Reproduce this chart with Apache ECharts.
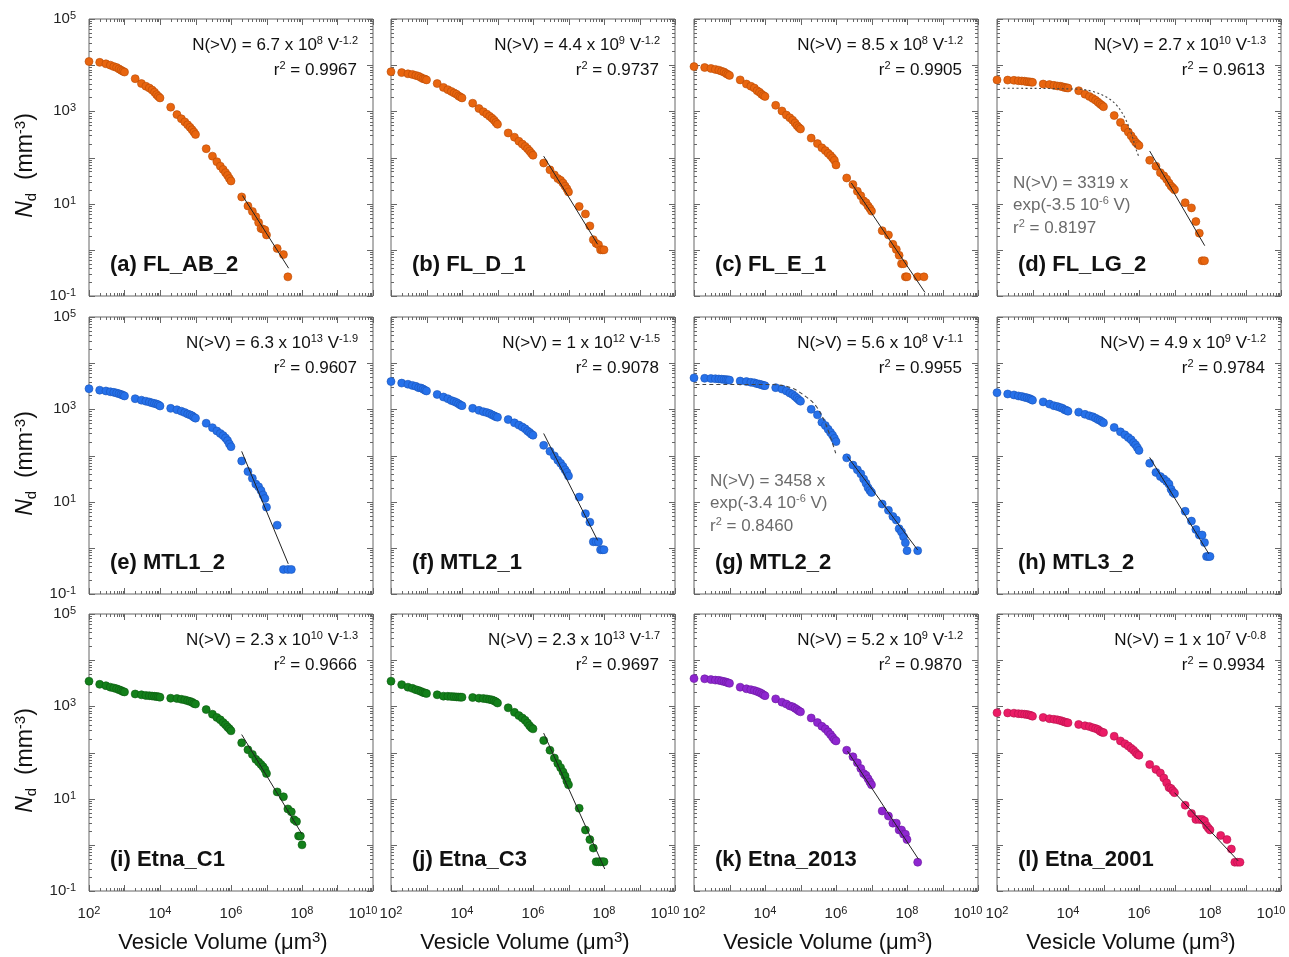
<!DOCTYPE html>
<html>
<head>
<meta charset="utf-8">
<title>Cumulative vesicle number density</title>
<script src="https://cdn.jsdelivr.net/npm/echarts@6/dist/echarts.min.js"></script>
<style>
  html, body { margin: 0; padding: 0; background: #fff; }
  #chart { width: 1289px; height: 957px; }
</style>
</head>
<body>
<div id="chart"></div>
<script>
// vesicle volume classes (µm³), one row per decade
const volumes = [
  1e2, 2e2, 3e2, 4e2, 5e2, 6e2, 7e2, 8e2, 9e2,
  1e3, 2e3, 3e3, 4e3, 5e3, 6e3, 7e3, 8e3, 9e3,
  1e4, 2e4, 3e4, 4e4, 5e4, 6e4, 7e4, 8e4, 9e4,
  1e5, 2e5, 3e5, 4e5, 5e5, 6e5, 7e5, 8e5, 9e5,
  1e6, 2e6, 3e6, 4e6, 5e6, 6e6, 7e6, 8e6, 9e6,
  1e7, 2e7, 3e7, 4e7, 5e7, 6e7, 7e7, 8e7, 9e7,
  1e8, 2e8, 3e8, 4e8, 5e8, 6e8, 7e8, 8e8, 9e8
]

// cumulative number density N(>V) in mm^-3, same order as volumes
const ndFL_AB_2 = [
  1.2e4, 1.15e4, 1.07e4, 1.0e4, 9.3e3, 8.9e3, 8.3e3, 7.8e3, 7.4e3,
  7.1e3, 5.1e3, 4.0e3, 3.5e3, 3.2e3, 2.9e3, 2.6e3, 2.3e3, 2.1e3,
  1950, 1230, 850, 690, 590, 510, 450, 400, 355,
  316, 155, 107, 81, 65, 55, 47, 41, 35,
  31, 14, 8.9, 6.8, 5.2, 3.9, 2.9, 2.8, 2.7,
  2.1, 1.07, 0.79, 0.26
]
const ndFL_D_1 = [
  7.2e3, 6.9e3, 6.5e3, 6.3e3, 6.0e3, 5.75e3, 5.4e3, 5.1e3, 5.0e3,
  4.8e3, 4.0e3, 3.3e3, 2.95e3, 2.7e3, 2.5e3, 2.35e3, 2.15e3, 2.05e3,
  1950, 1500, 1150, 980, 870, 780, 710, 645, 575,
  525, 340, 275, 225, 195, 174, 155, 138, 123,
  112, 76, 54, 42, 35, 32, 28, 24, 21,
  18, 8.7, 6.0, 3.3, 1.66, 1.38, 1.29, 1.0, 1.0,
  1.0
]
const ndFL_E_1 = [
  9.3e3, 8.9e3, 8.5e3, 8.1e3, 7.8e3, 7.4e3, 7.1e3, 6.6e3, 6.3e3,
  6.0e3, 4.8e3, 3.9e3, 3.5e3, 3.2e3, 2.8e3, 2.6e3, 2.35e3, 2.2e3,
  2100, 1350, 1020, 830, 725, 645, 560, 490, 445,
  415, 263, 200, 162, 141, 123, 110, 98, 87,
  69, 36, 26, 18.6, 14.8, 11.5, 10.5, 8.9, 7.9,
  6.9, 2.6, 2.1, 1.32, 1.02, 0.76, 0.5, 0.5, 0.26,
  0.26, 0.26, 0.26
]
const ndFL_LG_2 = [
  4.8e3, 4.75e3, 4.7e3, 4.6e3, 4.55e3, 4.5e3, 4.4e3, 4.35e3, 4.3e3,
  4.25e3, 3.9e3, 3.8e3, 3.65e3, 3.55e3, 3.5e3, 3.4e3, 3.3e3, 3.25e3,
  3200, 2800, 2350, 2100, 1900, 1740, 1580, 1450, 1350,
  1260, 810, 575, 435, 355, 295, 250, 215, 195,
  182, 87, 65, 47, 40, 34, 28, 24, 22,
  20, 10.5, 8.1, 4.1, 2.3, 0.58, 0.58
]
const ndMTL1_2 = [
  2.8e3, 2.6e3, 2.5e3, 2.4e3, 2.33e3, 2.25e3, 2.18e3, 2.1e3, 2.03e3,
  1950, 1700, 1580, 1500, 1440, 1380, 1340, 1300, 1250,
  1180, 1050, 980, 910, 850, 795, 760, 725, 675,
  645, 500, 400, 340, 300, 270, 240, 210, 178,
  155, 76, 45, 32, 24, 21, 17.4, 14, 11.7,
  7.6, 3.1, 0.34, 0.34, 0.34
]
const ndMTL2_1 = [
  4.0e3, 3.7e3, 3.5e3, 3.3e3, 3.15e3, 2.95e3, 2.9e3, 2.75e3, 2.6e3,
  2.5e3, 2.1e3, 1.85e3, 1.7e3, 1.55e3, 1.48e3, 1.4e3, 1.32e3, 1.24e3,
  1200, 1050, 950, 890, 850, 810, 760, 725, 690,
  675, 600, 510, 455, 415, 380, 340, 316, 290,
  275, 166, 123, 98, 79, 68, 58, 49, 43,
  36, 12.6, 5.5, 3.6, 1.35, 1.35, 1.35, 0.91, 0.91,
  0.91
]
const ndMTL2_2 = [
  4.8e3, 4.7e3, 4.65e3, 4.6e3, 4.55e3, 4.5e3, 4.45e3, 4.4e3, 4.35e3,
  4.3e3, 4.1e3, 4.0e3, 3.85e3, 3.75e3, 3.6e3, 3.5e3, 3.4e3, 3.3e3,
  3250, 2950, 2750, 2500, 2250, 2100, 1900, 1740, 1600,
  1500, 1000, 760, 525, 445, 370, 316, 275, 235,
  200, 89, 62, 49, 40, 31, 25, 20, 17.4,
  15.8, 8.9, 6.5, 4.8, 4.0, 2.6, 2.2, 1.74, 1.29,
  0.87, 0.87
]
const ndMTL3_2 = [
  2.3e3, 2.15e3, 2.05e3, 1.95e3, 1.9e3, 1.82e3, 1.78e3, 1.72e3, 1.66e3,
  1.58e3, 1.45e3, 1.3e3, 1.2e3, 1.15e3, 1.1e3, 1.05e3, 980, 950,
  910, 870, 780, 725, 690, 645, 600, 575, 540,
  510, 405, 325, 280, 245, 220, 190, 170, 148,
  129, 68, 43, 35, 31, 27.5, 24, 18.6, 15.8,
  14.8, 6.2, 3.8, 2.5, 1.9, 1.9, 1.3, 0.65, 0.65,
  0.65
]
const ndEtna_C1 = [
  3.5e3, 3.0e3, 2.8e3, 2.6e3, 2.5e3, 2.4e3, 2.3e3, 2.2e3, 2.1e3,
  2.05e3, 1.85e3, 1.78e3, 1.72e3, 1.7e3, 1.67e3, 1.65e3, 1.63e3, 1.61e3,
  1580, 1500, 1480, 1420, 1380, 1320, 1280, 1230, 1150,
  1120, 850, 675, 575, 510, 445, 400, 355, 325,
  295, 162, 115, 91, 71, 62, 55, 49, 43,
  35, 14, 11, 6.0, 5.2, 3.5, 3.2, 1.55, 1.55,
  1.0
]
const ndEtna_C3 = [
  3.5e3, 2.95e3, 2.6e3, 2.45e3, 2.3e3, 2.2e3, 2.1e3, 2.0e3, 1.95e3,
  1.9e3, 1.78e3, 1.66e3, 1.65e3, 1.63e3, 1.62e3, 1.6e3, 1.59e3, 1.58e3,
  1580, 1550, 1500, 1480, 1450, 1410, 1380, 1320, 1260,
  1180, 930, 740, 630, 560, 500, 435, 380, 345,
  325, 182, 112, 76, 58, 47, 38, 31, 24,
  20, 6.2, 2.1, 1.3, 0.85, 0.43, 0.43, 0.43, 0.43,
  0.43
]
const ndEtna_2013 = [
  4.0e3, 3.95e3, 3.8e3, 3.7e3, 3.65e3, 3.55e3, 3.45e3, 3.35e3, 3.25e3,
  3.15e3, 2.6e3, 2.4e3, 2.3e3, 2.2e3, 2.1e3, 2.0e3, 1.9e3, 1.78e3,
  1700, 1450, 1230, 1120, 1020, 980, 910, 850, 795,
  760, 560, 445, 370, 325, 280, 245, 215, 190,
  178, 112, 81, 60, 45, 35, 32, 27, 23,
  20, 5.4, 4.2, 2.95, 2.95, 2.1, 2.1, 1.7, 1.7,
  1.3, 0.42
]
const ndEtna_2001 = [
  725, 720, 710, 695, 685, 675, 665, 650, 635,
  610, 575, 540, 525, 510, 495, 475, 460, 445,
  440, 405, 380, 365, 345, 330, 315, 290, 275,
  270, 225, 178, 155, 138, 123, 112, 100, 91,
  87, 55, 43, 36, 28, 22, 17.4, 16.6, 14.8,
  13.5, 7.2, 4.8, 3.55, 3.55, 3.55, 3.3, 2.6, 2.3,
  2.1, 1.6, 1.3, 0.81, 0.42, 0.42, 0.42
]

// power-law fit segments [V, N] as drawn
const fitFL_AB_2 = [[2.1e6, 15], [4.2e7, 0.4]]
const fitFL_D_1 = [[2.0e6, 107], [6.6e7, 1.32]]
const fitFL_E_1 = [[2.7e6, 28], [3.2e8, 0.12]]
const fitFL_LG_2 = [[2.0e6, 138], [7.1e7, 1.23]]
const fitMTL1_2 = [[2.0e6, 123], [4.1e7, 0.45]]
const fitMTL2_1 = [[2.0e6, 300], [6.6e7, 1.45]]
const fitMTL2_2 = [[2.1e6, 95], [2.0e8, 0.9]]
const fitMTL3_2 = [[2.0e6, 91], [9.3e7, 0.74]]
const fitEtna_C1 = [[2.0e6, 245], [1.0e8, 1.7]]
const fitEtna_C3 = [[2.0e6, 263], [1.05e8, 0.3]]
const fitEtna_2013 = [[2.1e6, 107], [2.1e8, 0.49]]
const fitEtna_2001 = [[1.0e7, 13.5], [6.2e8, 0.45]]

// exponential fits (dashed curves)
const expFL_LG_2 = [[150, 3160], [2.1e4, 3020], [5.0e4, 2690], [1.2e5, 2040], [2.3e5, 1380],
  [4.0e5, 725], [6.0e5, 340], [8.3e5, 148], [1.0e6, 102]]
const expMTL2_2 = [[110, 3460], [1e4, 3460], [4.9e4, 3020], [1.45e5, 1860], [2.8e5, 1150],
  [4.8e5, 540], [7.4e5, 220], [9.8e5, 112]]

const sampleLabels = ['(a) FL_AB_2', '(b) FL_D_1', '(c) FL_E_1', '(d) FL_LG_2',
  '(e) MTL1_2', '(f) MTL2_1', '(g) MTL2_2', '(h) MTL3_2',
  '(i) Etna_C1', '(j) Etna_C3', '(k) Etna_2013', '(l) Etna_2001']
const fitCoef = ['6.7', '4.4', '8.5', '2.7', '6.3', '1', '5.6', '4.9', '2.3', '2.3', '5.2', '1']
const fitCoefExp = ['8', '9', '8', '10', '13', '12', '8', '9', '10', '13', '9', '7']
const fitSlope = ['-1.2', '-1.2', '-1.2', '-1.3', '-1.9', '-1.5', '-1.1', '-1.2', '-1.3', '-1.7', '-1.2', '-0.8']
const fitR2 = ['0.9967', '0.9737', '0.9905', '0.9613', '0.9607', '0.9078',
  '0.9955', '0.9784', '0.9666', '0.9697', '0.9870', '0.9934']
const expPanels = [3, 6]
const expCoef = ['3319', '3458']
const expRate = ['-3.5', '-3.4']
const expR2 = ['0.8197', '0.8460']

const xTickExps = [2, 4, 6, 8, 10]
const yTickExps = [-1, 1, 3, 5]

const samples = [ndFL_AB_2, ndFL_D_1, ndFL_E_1, ndFL_LG_2, ndMTL1_2, ndMTL2_1,
  ndMTL2_2, ndMTL3_2, ndEtna_C1, ndEtna_C3, ndEtna_2013, ndEtna_2001]
const fits = [fitFL_AB_2, fitFL_D_1, fitFL_E_1, fitFL_LG_2, fitMTL1_2, fitMTL2_1,
  fitMTL2_2, fitMTL3_2, fitEtna_C1, fitEtna_C3, fitEtna_2013, fitEtna_2001]
const expCurves = [expFL_LG_2, expMTL2_2]

const colors = ['#E8650F', '#E8650F', '#E8650F', '#E8650F',
  '#2671EA', '#2671EA', '#2671EA', '#2671EA',
  '#13801A', '#13801A', '#8E26CF', '#EB1C66']
const borders = ['#B84A05', '#B84A05', '#B84A05', '#B84A05',
  '#1A54B8', '#1A54B8', '#1A54B8', '#1A54B8',
  '#0C5A10', '#0C5A10', '#6A1A9E', '#B5124B']

const FONT = '"Liberation Sans", Arial, sans-serif'
const gridLefts = [89, 391, 694, 997]
const gridTops = [19, 317, 614]
const gridW = 284
const gridH = 277
const xMin = 1e2, xMax = 1e10, yMin = 0.1, yMax = 1e5
const frameColor = '#666'

// log-axis tick positions (majors at decades, minors 2..9)
function logTicks(lo, hi) {
  const out = []
  for (let e = lo; e <= hi; e++) {
    out.push([Math.pow(10, e), 6])
    if (e < hi) {
      for (let m = 2; m <= 9; m++) out.push([m * Math.pow(10, e), 3])
    }
  }
  return out
}
const xTicks = logTicks(2, 10)
const yTicks = logTicks(-1, 5)

function expOf(v) { return Math.round(Math.log10(v)) }

const chart = echarts.init(document.getElementById('chart'), null, { renderer: 'canvas' })

const grids = [], xAxes = [], yAxes = [], series = [], graphics = []

const textRich = (size, color) => ({
  n: { fontSize: size, lineHeight: size + 3, fontFamily: FONT, fill: color, color: color },
  s: { fontSize: Math.round(size * 0.65), lineHeight: 9, verticalAlign: 'top', fontFamily: FONT, fill: color, color: color }
})

const tickRich = {
  b: { fontSize: 15, lineHeight: 17, fontFamily: FONT, color: '#222' },
  s: { fontSize: 11, lineHeight: 6, verticalAlign: 'top', fontFamily: FONT, color: '#222' },
  // last x label sits left of its tick, as in the original
  e: { fontSize: 11, lineHeight: 6, verticalAlign: 'top', fontFamily: FONT, color: '#222', padding: [0, 20, 0, 0] }
}

for (let i = 0; i < 12; i++) {
  const row = Math.floor(i / 4), col = i % 4
  const left = gridLefts[col], top = gridTops[row]
  grids.push({
    left: left, top: top, width: gridW, height: gridH,
    show: true, borderColor: frameColor, borderWidth: 1,
    outerBoundsMode: 'none', containLabel: false
  })
  xAxes.push({
    type: 'log', logBase: 10, gridIndex: i, min: xMin, max: xMax,
    splitNumber: 10,
    axisLine: { show: false }, axisTick: { show: false }, splitLine: { show: false },
    axisLabel: {
      show: row === 2, margin: 14, hideOverlap: false,
      showMinLabel: true, showMaxLabel: true,
      formatter: v => {
        const e = expOf(v)
        if (!xTickExps.includes(e)) return ''
        return '{b|10}{' + (v >= xMax ? 'e' : 's') + '|' + e + '}'
      },
      rich: tickRich
    }
  })
  yAxes.push({
    type: 'log', logBase: 10, gridIndex: i, min: yMin, max: yMax,
    splitNumber: 10,
    axisLine: { show: false }, axisTick: { show: false }, splitLine: { show: false },
    axisLabel: {
      show: col === 0, margin: 13, hideOverlap: false,
      showMinLabel: true, showMaxLabel: true,
      formatter: v => yTickExps.includes(expOf(v)) ? '{b|10}{s|' + expOf(v) + '}' : '',
      rich: tickRich
    }
  })

  // ticks on all four sides of the frame
  const tickData = []
  xTicks.forEach(t => tickData.push([t[0], 1, 0, t[1]]))
  yTicks.forEach(t => tickData.push([xMin, t[0], 1, t[1]]))
  series.push({
    type: 'custom', xAxisIndex: i, yAxisIndex: i, silent: true, clip: false, z: 1,
    data: tickData,
    renderItem: (params, api) => {
      const kind = api.value(2), len = api.value(3)
      const style = { stroke: frameColor, lineWidth: 1 }
      if (kind === 0) {
        const b = api.coord([api.value(0), yMin]), t = api.coord([api.value(0), yMax])
        const x = Math.round(b[0]) + 0.5
        return { type: 'group', children: [
          { type: 'line', shape: { x1: x, y1: b[1], x2: x, y2: b[1] - len }, style: style },
          { type: 'line', shape: { x1: x, y1: t[1], x2: x, y2: t[1] + len }, style: style }
        ] }
      }
      const l = api.coord([xMin, api.value(1)]), r = api.coord([xMax, api.value(1)])
      const y = Math.round(l[1]) + 0.5
      return { type: 'group', children: [
        { type: 'line', shape: { x1: l[0], y1: y, x2: l[0] + len, y2: y }, style: style },
        { type: 'line', shape: { x1: r[0], y1: y, x2: r[0] - len, y2: y }, style: style }
      ] }
    }
  })

  series.push({
    type: 'scatter', xAxisIndex: i, yAxisIndex: i, z: 2,
    symbol: 'circle', symbolSize: 8,
    itemStyle: { color: colors[i], borderColor: borders[i], borderWidth: 0.6, opacity: 1 },
    data: samples[i].map((n, k) => [volumes[k], n])
  })

  series.push({
    type: 'line', xAxisIndex: i, yAxisIndex: i, z: 3,
    showSymbol: false, symbol: 'none',
    lineStyle: { color: '#222', width: 1 },
    data: fits[i]
  })

  const ei = expPanels.indexOf(i)
  if (ei >= 0) {
    series.push({
      type: 'line', xAxisIndex: i, yAxisIndex: i, z: 3,
      showSymbol: false, symbol: 'none', smooth: 0.35,
      lineStyle: { color: '#444', width: 1.1, type: ei === 0 ? [2, 2.5] : [4, 3] },
      data: expCurves[ei]
    })
    const gray = '#6b6b6b'
    const lines = [
      '{n|N(>V) = ' + expCoef[ei] + ' x}',
      '{n|exp(' + expRate[ei] + ' 10}{s|-6}{n| V)}',
      '{n|r}{s|2}{n| = ' + expR2[ei] + '}'
    ]
    lines.forEach((t, k) => graphics.push({
      type: 'text', x: left + 16, y: top + 164 + k * 22.5, silent: true,
      style: { text: t, rich: textRich(17, gray), fill: gray, font: '17px ' + FONT,
        align: 'left', verticalAlign: 'middle' }
    }))
  }

  // power-law equation, r², sample label
  graphics.push({
    type: 'text', x: left + gridW - 15, y: top + 26, silent: true,
    style: {
      text: '{n|N(>V) = ' + fitCoef[i] + ' x 10}{s|' + fitCoefExp[i] + '}{n| V}{s|' + fitSlope[i] + '}',
      rich: textRich(17, '#111'), fill: '#111', font: '17px ' + FONT,
      align: 'right', verticalAlign: 'middle'
    }
  })
  graphics.push({
    type: 'text', x: left + gridW - 16, y: top + 51, silent: true,
    style: {
      text: '{n|r}{s|2}{n| = ' + fitR2[i] + '}',
      rich: textRich(17, '#111'), fill: '#111', font: '17px ' + FONT,
      align: 'right', verticalAlign: 'middle'
    }
  })
  graphics.push({
    type: 'text', x: left + 21, y: top + gridH - 31, silent: true,
    style: {
      text: sampleLabels[i], fill: '#111', font: 'bold 22px ' + FONT,
      align: 'left', verticalAlign: 'middle'
    }
  })
}

// shared axis titles
gridTops.forEach(top => graphics.push({
  type: 'text', x: 26, y: top + gridH / 2 + 8, rotation: Math.PI / 2, silent: true,
  style: {
    text: '{i|N}{d|d}{n|  (mm}{s|-3}{n|)}',
    rich: {
      i: { fontSize: 23, lineHeight: 26, fontStyle: 'italic', fontFamily: FONT, fill: '#111' },
      d: { fontSize: 15, lineHeight: 11, verticalAlign: 'bottom', fontFamily: FONT, fill: '#111' },
      n: { fontSize: 23, lineHeight: 26, fontFamily: FONT, fill: '#111' },
      s: { fontSize: 15, lineHeight: 10, verticalAlign: 'top', fontFamily: FONT, fill: '#111' }
    },
    fill: '#111', font: '23px ' + FONT, align: 'center', verticalAlign: 'middle'
  }
}))
gridLefts.forEach(left => graphics.push({
  type: 'text', x: left + gridW / 2 - 8, y: 943, silent: true,
  style: {
    text: '{n|Vesicle Volume (μm}{s|3}{n|)}',
    rich: {
      n: { fontSize: 22, lineHeight: 25, fontFamily: FONT, fill: '#111' },
      s: { fontSize: 15, lineHeight: 10, verticalAlign: 'top', fontFamily: FONT, fill: '#111' }
    },
    fill: '#111', font: '22px ' + FONT, align: 'center', verticalAlign: 'middle'
  }
}))

chart.setOption({
  animation: false,
  backgroundColor: '#fff',
  grid: grids,
  xAxis: xAxes,
  yAxis: yAxes,
  series: series,
  graphic: { elements: graphics }
})

window.addEventListener('resize', () => chart.resize())
</script>
</body>
</html>
